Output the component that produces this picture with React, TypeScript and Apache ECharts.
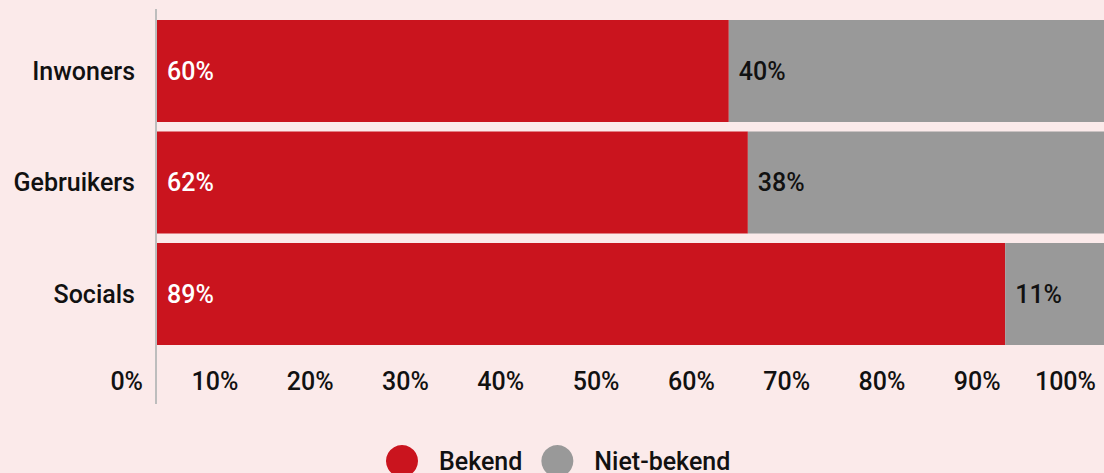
import React, { useEffect, useRef } from "react";
import * as echarts from "echarts";

const categories = ["Inwoners", "Gebruikers", "Socials"];
const bekend = [60, 62, 89];
const nietBekend = [40, 38, 11];
const seriesNames = ["Bekend", "Niet-bekend"];

const FONT = "Roboto, 'Noto Sans', sans-serif";
const W = 500;

export default function App() {
  const ref = useRef<HTMLDivElement>(null);
  useEffect(() => {
    if (!ref.current) return;
    const chart = echarts.init(ref.current, undefined, { renderer: "svg" });
    chart.setOption({
      animation: false,
      backgroundColor: "#fbeaea",
      textStyle: { fontFamily: FONT, fontWeight: W },
      grid: { left: 157, width: 953, top: 15.25, height: 334.5, containLabel: false },
      xAxis: {
        type: "value",
        min: 0,
        max: 100,
        interval: 10,
        splitLine: { show: false },
        axisLine: { show: false },
        axisTick: { show: false },
        axisLabel: {
          formatter: "{value}%",
          align: "right",
          padding: [0, 14, 0, 0],
          margin: 19,
          fontSize: 25,
          fontWeight: W,
          color: "#111",
          fontFamily: FONT,
        },
      },
      yAxis: {
        type: "category",
        data: categories,
        inverse: true,
        axisLine: { show: false },
        axisTick: { show: false },
        axisLabel: { fontSize: 25, fontWeight: W, color: "#111", margin: 22, fontFamily: FONT },
      },
      legend: {
        left: 386,
        top: 445,
        padding: 0,
        icon: "circle",
        itemWidth: 32,
        itemHeight: 32,
        itemGap: 19,
        textStyle: {
          fontSize: 25,
          fontWeight: W,
          color: "#111",
          fontFamily: FONT,
          padding: [0, 0, 5, 16],
        },
        data: seriesNames,
      },
      graphic: [
        {
          type: "line",
          shape: { x1: 156, y1: 9, x2: 156, y2: 404 },
          style: { stroke: "#bdbdbd", lineWidth: 2 },
          z: 10,
        },
      ],
      series: [
        {
          name: seriesNames[0],
          type: "bar",
          stack: "total",
          data: bekend,
          barCategoryGap: "8.5%",
          itemStyle: { color: "#ca141e" },
          label: {
            show: true,
            position: "insideLeft",
            distance: 10,
            formatter: "{c}%",
            color: "#fff",
            fontSize: 25,
            fontWeight: W,
            fontFamily: FONT,
          },
        },
        {
          name: seriesNames[1],
          type: "bar",
          stack: "total",
          data: nietBekend,
          barCategoryGap: "8.5%",
          itemStyle: { color: "#999999" },
          label: {
            show: true,
            position: "insideLeft",
            distance: 10,
            formatter: "{c}%",
            color: "#111",
            fontSize: 25,
            fontWeight: W,
            fontFamily: FONT,
          },
        },
      ],
    });
    return () => chart.dispose();
  }, []);
  return (
    <div style={{ width: 1104, height: 473, position: "absolute", left: 0, top: 0, overflow: "hidden" }}>
      <div ref={ref} style={{ width: 1120, height: 473 }} />
    </div>
  );
}
